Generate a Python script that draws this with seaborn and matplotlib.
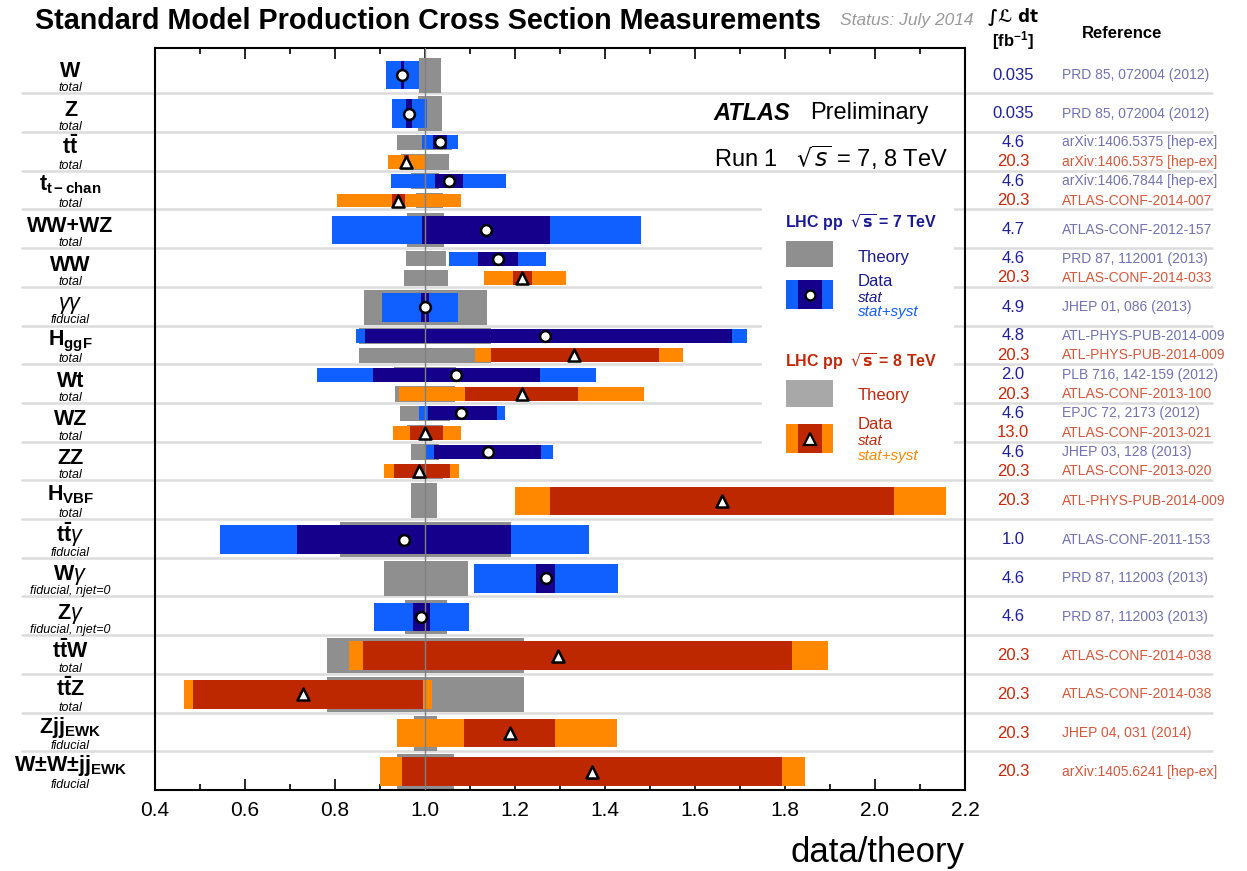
import numpy as np
import pandas as pd
import matplotlib
matplotlib.use("Agg")
import matplotlib.pyplot as plt
import matplotlib.transforms as mtransforms
from matplotlib.patches import Rectangle
from matplotlib.ticker import MultipleLocator
import seaborn as sns

# ---------------- data ----------------
row_main = ["W", "Z", r"$\mathbf{t\bar{t}}$", r"$\mathbf{t}_{\mathbf{t-chan}}$", "WW+WZ", "WW",
            r"$\gamma\gamma$", r"$\mathbf{H}_{\mathbf{ggF}}$", "Wt", "WZ", "ZZ",
            r"$\mathbf{H}_{\mathbf{VBF}}$", r"$\mathbf{t\bar{t}}\gamma$", r"$\mathbf{W}\gamma$",
            r"$\mathbf{Z}\gamma$", r"$\mathbf{t\bar{t}W}$", r"$\mathbf{t\bar{t}Z}$",
            r"$\mathbf{Zjj}_{\mathbf{EWK}}$", r"$\mathbf{W±W±jj}_{\mathbf{EWK}}$"]
row_sub = ["total", "total", "total", "total", "total", "total", "fiducial", "total", "total",
           "total", "total", "total", "fiducial", "fiducial, njet=0", "fiducial, njet=0",
           "total", "total", "fiducial", "fiducial"]

meas_row = [0, 1, 2, 2, 3, 3, 4, 5, 5, 6, 7, 7, 8, 8, 9, 9, 10, 10, 11, 12, 13, 14, 15, 16, 17, 18]
meas_energy = [7, 7, 7, 8, 7, 8, 7, 7, 8, 7, 7, 8, 7, 8, 7, 8, 7, 8, 8, 7, 7, 7, 8, 8, 8, 8]
central = [0.950, 0.964, 1.034, 0.958, 1.053, 0.941, 1.136, 1.162, 1.216, 1.000, 1.267, 1.331,
           1.070, 1.215, 1.079, 1.000, 1.139, 0.986, 1.659, 0.953, 1.269, 0.991, 1.296, 0.729,
           1.188, 1.371]
stat_lo = [0.947, 0.958, 1.017, 0.953, 1.022, 0.927, 0.994, 1.118, 1.196, 0.992, 0.867, 1.147,
           0.885, 1.090, 1.006, 0.966, 1.019, 0.931, 1.277, 0.715, 1.247, 0.973, 0.863, 0.484,
           1.087, 0.949]
stat_hi = [0.953, 0.971, 1.050, 0.965, 1.084, 0.956, 1.278, 1.207, 1.237, 1.008, 1.682, 1.520,
           1.256, 1.340, 1.160, 1.039, 1.257, 1.056, 2.043, 1.192, 1.290, 1.012, 1.815, 0.996,
           1.289, 1.794]
tot_lo = [0.913, 0.927, 0.993, 0.918, 0.925, 0.804, 0.793, 1.053, 1.131, 0.905, 0.847, 1.111,
          0.761, 0.943, 0.987, 0.928, 1.002, 0.908, 1.200, 0.544, 1.109, 0.886, 0.831, 0.464,
          0.938, 0.899]
tot_hi = [0.987, 1.004, 1.074, 1.000, 1.181, 1.079, 1.480, 1.270, 1.313, 1.073, 1.716, 1.573,
          1.380, 1.487, 1.177, 1.079, 1.284, 1.075, 2.158, 1.364, 1.428, 1.098, 1.896, 1.015,
          1.426, 1.844]
th_lo = [0.987, 0.984, 0.938, 0.947, 0.970, 0.979, 0.960, 0.958, 0.954, 0.864, 0.853, 0.853,
         0.931, 0.933, 0.944, 0.960, 0.970, 0.972, 0.970, 0.810, 0.908, 0.955, 0.782, 0.782,
         0.975, 0.938]
th_hi = [1.035, 1.038, 1.060, 1.053, 1.030, 1.039, 1.042, 1.047, 1.051, 1.137, 1.146, 1.146,
         1.069, 1.067, 1.056, 1.040, 1.030, 1.040, 1.027, 1.192, 1.096, 1.049, 1.221, 1.220,
         1.027, 1.064]
lumi = ["0.035", "0.035", "4.6", "20.3", "4.6", "20.3", "4.7", "4.6", "20.3", "4.9", "4.8", "20.3",
        "2.0", "20.3", "4.6", "13.0", "4.6", "20.3", "20.3", "1.0", "4.6", "4.6", "20.3", "20.3",
        "20.3", "20.3"]
refs = ["PRD 85, 072004 (2012)", "PRD 85, 072004 (2012)", "arXiv:1406.5375 [hep-ex]",
        "arXiv:1406.5375 [hep-ex]", "arXiv:1406.7844 [hep-ex]", "ATLAS-CONF-2014-007",
        "ATLAS-CONF-2012-157", "PRD 87, 112001 (2013)", "ATLAS-CONF-2014-033",
        "JHEP 01, 086 (2013)", "ATL-PHYS-PUB-2014-009", "ATL-PHYS-PUB-2014-009",
        "PLB 716, 142-159 (2012)", "ATLAS-CONF-2013-100", "EPJC 72, 2173 (2012)",
        "ATLAS-CONF-2013-021", "JHEP 03, 128 (2013)", "ATLAS-CONF-2013-020",
        "ATL-PHYS-PUB-2014-009", "ATLAS-CONF-2011-153", "PRD 87, 112003 (2013)",
        "PRD 87, 112003 (2013)", "ATLAS-CONF-2014-038", "ATLAS-CONF-2014-038",
        "JHEP 04, 031 (2014)", "arXiv:1405.6241 [hep-ex]"]
xticks = [0.4, 0.6, 0.8, 1.0, 1.2, 1.4, 1.6, 1.8, 2.0, 2.2]

# ---------------- style ----------------
sns.set_theme(style="ticks")
plt.rcParams["font.family"] = ["Liberation Sans", "DejaVu Sans"]
plt.rcParams["mathtext.fontset"] = "custom"
plt.rcParams["mathtext.rm"] = "Liberation Sans"
plt.rcParams["mathtext.bf"] = "Liberation Sans:bold"
plt.rcParams["mathtext.it"] = "Liberation Sans:italic"
plt.rcParams["mathtext.sf"] = "Liberation Sans"
plt.rcParams["text.color"] = "black"
plt.rcParams["xtick.color"] = "black"
plt.rcParams["xtick.labelcolor"] = "black"
plt.rcParams["axes.labelcolor"] = "black"

C_NAVY = "#14008a"
C_BLUE = "#105fff"
C_RED = "#be2800"
C_ORANGE = "#ff8800"
C_GRAY = "#8f8f8f"
C_GRAY8 = "#a8a8a8"
T_LUMI7, T_LUMI8 = "#1f1f9c", "#c8280a"
T_REF7, T_REF8 = "#7272b0", "#d4583c"

W, H = 1247, 871
fig = plt.figure(figsize=(W / 100, H / 100), dpi=100)
ax = fig.add_axes([155 / W, 1 - 790 / H, 810 / W, 742 / H])
NROWS = len(row_main)

# per measurement geometry
counts = pd.Series(meas_row).value_counts()
ycen, hdat, hth = [], [], []
for r, e in zip(meas_row, meas_energy):
    if counts[r] == 1:
        ycen.append(r + 0.53); hdat.append(0.74); hth.append(0.90)
    else:
        ycen.append(r + (0.27 if e == 7 else 0.77)); hdat.append(0.36); hth.append(0.40)

df = pd.DataFrame({"row": meas_row, "energy": meas_energy, "central": central,
                   "stat_lo": stat_lo, "stat_hi": stat_hi, "tot_lo": tot_lo, "tot_hi": tot_hi,
                   "th_lo": th_lo, "th_hi": th_hi, "y": ycen, "hd": hdat, "ht": hth,
                   "lumi": lumi, "ref": refs})

# separator lines
blend = mtransforms.blended_transform_factory(fig.transFigure, ax.transData)
for k in range(1, NROWS):
    ax.plot([22 / W, 1212 / W], [k, k], transform=blend, color="#dcdcdc", lw=1.8,
            clip_on=False, zorder=0.5)

# legend background
ax.add_patch(Rectangle((1.749, 3.76), 0.427, 6.97, facecolor="white", edgecolor="none", zorder=0.8))

# bars
ax.barh(df.y, df.th_hi - df.th_lo, left=df.th_lo, height=df.ht, color=C_GRAY, lw=0, zorder=1)
tot_col = [C_BLUE if e == 7 else C_ORANGE for e in df.energy]
st_col = [C_NAVY if e == 7 else C_RED for e in df.energy]
ax.barh(df.y, df.tot_hi - df.tot_lo, left=df.tot_lo, height=df.hd, color=tot_col, lw=0, zorder=2)
ax.barh(df.y, df.stat_hi - df.stat_lo, left=df.stat_lo, height=df.hd, color=st_col, lw=0, zorder=3)
ax.axvline(1.0, color="#808080", lw=1.0, zorder=4)

sns.scatterplot(data=df[df.energy == 7], x="central", y="y", marker="o", s=60, color="white",
                edgecolor="black", linewidth=1.8, zorder=5, ax=ax, legend=False)
sns.scatterplot(data=df[df.energy == 8], x="central", y="y", marker="^", s=75, color="white",
                edgecolor="black", linewidth=1.8, zorder=5, ax=ax, legend=False)
ax.set_xlim(0.4, 2.2)
ax.set_ylim(NROWS, -0.17)
ax.set_xlabel("")
ax.set_ylabel("")

# axes styling
ax.set_yticks([])
ax.set_xticks(xticks)
ax.set_xticklabels([f"{t:.1f}" for t in xticks])
ax.xaxis.set_minor_locator(MultipleLocator(0.1))
ax.tick_params(axis="x", which="both", direction="in", top=True, bottom=True, labelsize=15,
               pad=8, color="black", labelcolor="black")
ax.tick_params(axis="x", which="major", length=8, width=1.2)
ax.tick_params(axis="x", which="minor", length=4, width=1.2)
for s in ax.spines.values():
    s.set_linewidth(1.5)
    s.set_color("black")

fig.text(965 / W, 1 - 862 / H, "data/theory", ha="right", va="baseline", fontsize=25)

# title
fig.text(35 / W, 1 - 21 / H, "Standard Model Production Cross Section Measurements",
         fontsize=20.7, fontweight="bold", va="center", ha="left")
fig.text(840 / W, 1 - 21 / H, "Status: July 2014", fontsize=12.5, style="italic",
         color="#9a9a9a", va="center", ha="left")

# header of table
fig.text(1013 / W, 1 - 16 / H, "\u222b\u2112 dt", ha="center", va="center",
         fontsize=12, fontweight="bold", family=["DejaVu Sans"])
fig.text(1013 / W, 1 - 41 / H, r"$\mathbf{[fb^{-1}]}$", ha="center", va="center", fontsize=12)
fig.text(1122 / W, 1 - 33 / H, "Reference", ha="center", va="center", fontsize=12,
         fontweight="bold")

# row labels
for i, (m, s) in enumerate(zip(row_main, row_sub)):
    base = i + (0.52 if "_" in m else 0.58)
    ax.text(70.5 / W, base, m, transform=blend, ha="center", va="baseline", fontsize=15.5,
            fontweight="bold", clip_on=False)
    ax.text(70.5 / W, i + 0.87, s, transform=blend, ha="center", va="center", fontsize=9,
            style="italic", clip_on=False)

# table text
for _, r in df.iterrows():
    c1 = T_LUMI7 if r.energy == 7 else T_LUMI8
    c2 = T_REF7 if r.energy == 7 else T_REF8
    ax.text(1013 / W, r.y, r.lumi, transform=blend, ha="center", va="center", fontsize=12,
            color=c1, clip_on=False)
    ax.text(1062 / W, r.y, r.ref, transform=blend, ha="left", va="center", fontsize=10,
            color=c2, clip_on=False)

# ATLAS label
ax.text(1.642, 1.51, "ATLAS", fontsize=17, fontweight="bold", style="italic", va="center",
        zorder=6)
ax.text(1.856, 1.51, "Preliminary", fontsize=17, va="center", zorder=6)
ax.text(1.642, 2.67, r"Run 1   $\sqrt{s}$ = 7, 8 TeV", fontsize=17, va="center", zorder=6,
        math_fontfamily="dejavusans")

# legend
for (ytxt, col, e_txt) in [(4.33, "#1a1a90", "7"), (7.94, "#c0280a", "8")]:
    ax.text(1.80, ytxt, r"LHC pp  $\mathbf{\sqrt{s}}$ = " + e_txt + " TeV", fontsize=11.5,
            fontweight="bold", color=col, va="center", zorder=6, math_fontfamily="dejavusans")

ax.add_patch(Rectangle((1.802, 4.82), 0.104, 0.67, facecolor=C_GRAY, lw=0, zorder=6))
ax.text(1.962, 5.23, "Theory", fontsize=12, color="#1a1a90", va="center", zorder=6)
ax.add_patch(Rectangle((1.802, 5.82), 0.104, 0.75, facecolor=C_BLUE, lw=0, zorder=6))
ax.add_patch(Rectangle((1.829, 5.82), 0.053, 0.75, facecolor=C_NAVY, lw=0, zorder=6))
ax.plot([1.856], [6.2], marker="o", ms=7, mfc="white", mec="black", mew=1.6, zorder=7)
ax.text(1.962, 5.86, "Data", fontsize=12, color="#1a1a90", va="center", zorder=6)
ax.text(1.962, 6.28, "stat", fontsize=11, style="italic", color="#1a1a90", va="center", zorder=6)
ax.text(1.962, 6.66, "stat+syst", fontsize=11, style="italic", color=C_BLUE, va="center",
        zorder=6)

ax.add_patch(Rectangle((1.802, 8.41), 0.104, 0.70, facecolor=C_GRAY8, lw=0, zorder=6))
ax.text(1.962, 8.82, "Theory", fontsize=12, color="#c0280a", va="center", zorder=6)
ax.add_patch(Rectangle((1.802, 9.54), 0.104, 0.75, facecolor=C_ORANGE, lw=0, zorder=6))
ax.add_patch(Rectangle((1.829, 9.54), 0.053, 0.75, facecolor=C_RED, lw=0, zorder=6))
ax.plot([1.856], [9.92], marker="^", ms=8, mfc="white", mec="black", mew=1.6, zorder=7)
ax.text(1.962, 9.57, "Data", fontsize=12, color="#c0280a", va="center", zorder=6)
ax.text(1.962, 9.99, "stat", fontsize=11, style="italic", color="#c0280a", va="center", zorder=6)
ax.text(1.962, 10.37, "stat+syst", fontsize=11, style="italic", color=C_ORANGE, va="center",
        zorder=6)

fig.savefig("out.png", dpi=100)
